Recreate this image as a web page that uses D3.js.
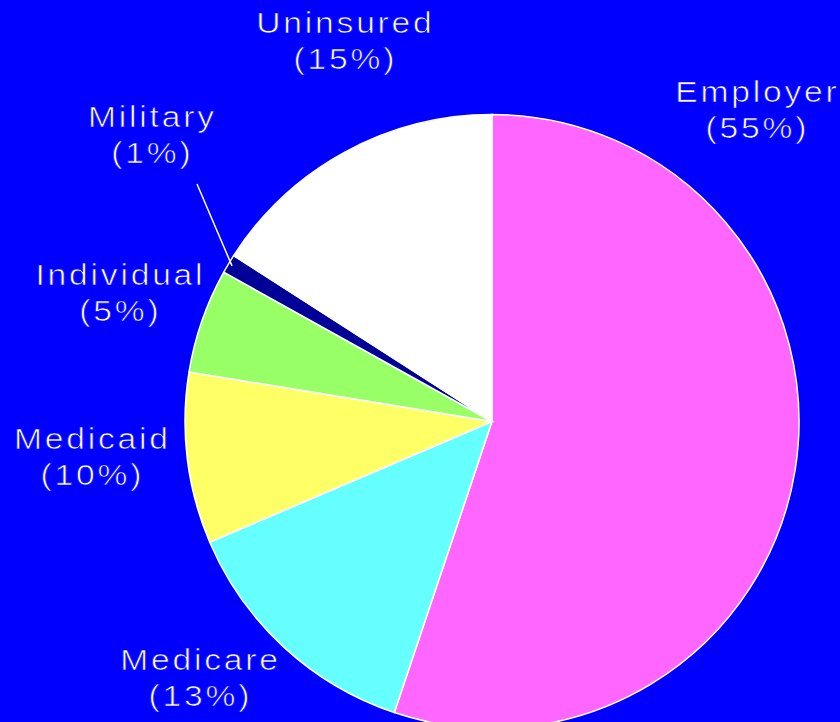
<!DOCTYPE html>
<html>
<head>
<meta charset="utf-8">
<script src="https://cdn.jsdelivr.net/npm/d3@7"></script>
<style>
  html, body { margin: 0; padding: 0; background: #0000ff; }
  svg { display: block; }
  text { font-family: "Liberation Sans", Arial, sans-serif; font-size: 30px; fill: #ffffff;
         letter-spacing: 2.5px; stroke: #0000ff; stroke-width: 0.7px; }
</style>
</head>
<body>
<svg id="chart"></svg>
<script>
// health insurance coverage, clockwise from 12 o'clock
const categories = ['Employer', 'Medicare', 'Medicaid', 'Individual', 'Military', 'Uninsured'];
const shares = [55.1, 13.4, 9.0, 5.5, 1.0, 15.9];
const shareLabels = ['55%', '13%', '10%', '5%', '1%', '15%'];
const colors = ['#ff66ff', '#66ffff', '#ffff66', '#99ff66', '#000099', '#ffffff'];

// label anchors (center x, first baseline)
const labelPos = [[756, 102], [199, 670], [91, 449], [119, 285], [151, 127], [344, 33]];

const width = 840, height = 722;
const cx = 492, cy = 421.5, radius = 307;
const stretch = 1.12; // the labels use a wide, light face

const svg = d3.select('#chart')
  .attr('width', width)
  .attr('height', height);

svg.append('rect').attr('width', width).attr('height', height).attr('fill', '#0000ff');

const data = categories.map((c, i) => ({ name: c, value: shares[i], label: shareLabels[i], color: colors[i], pos: labelPos[i] }));

const pie = d3.pie().value(d => d.value).sort(null);
const arc = d3.arc().innerRadius(0).outerRadius(radius);
const arcs = pie(data);

const g = svg.append('g').attr('transform', `translate(${cx},${cy})`);

g.selectAll('path')
  .data(arcs)
  .join('path')
  .attr('d', arc)
  .attr('fill', d => d.data.color)
  .attr('stroke', '#ffffff')
  .attr('stroke-width', 1.5);

// leader line for the small Military slice
const mil = arcs.find(a => a.data.name === 'Military');
const mid = (mil.startAngle + mil.endAngle) / 2;
svg.append('line')
  .attr('x1', 197).attr('y1', 184)
  .attr('x2', cx + Math.sin(mid) * (radius - 4))
  .attr('y2', cy - Math.cos(mid) * (radius - 4))
  .attr('stroke', '#ffffff')
  .attr('stroke-width', 1.5);

const labels = svg.selectAll('g.label')
  .data(data)
  .join('g')
  .attr('class', 'label')
  .attr('transform', d => `translate(${d.pos[0] + 1.4},${d.pos[1]}) scale(${stretch},1)`);

labels.append('text')
  .attr('text-anchor', 'middle')
  .text(d => d.name);

labels.append('text')
  .attr('y', 36.5)
  .attr('text-anchor', 'middle')
  .text(d => '(' + d.label + ')');
</script>
</body>
</html>
